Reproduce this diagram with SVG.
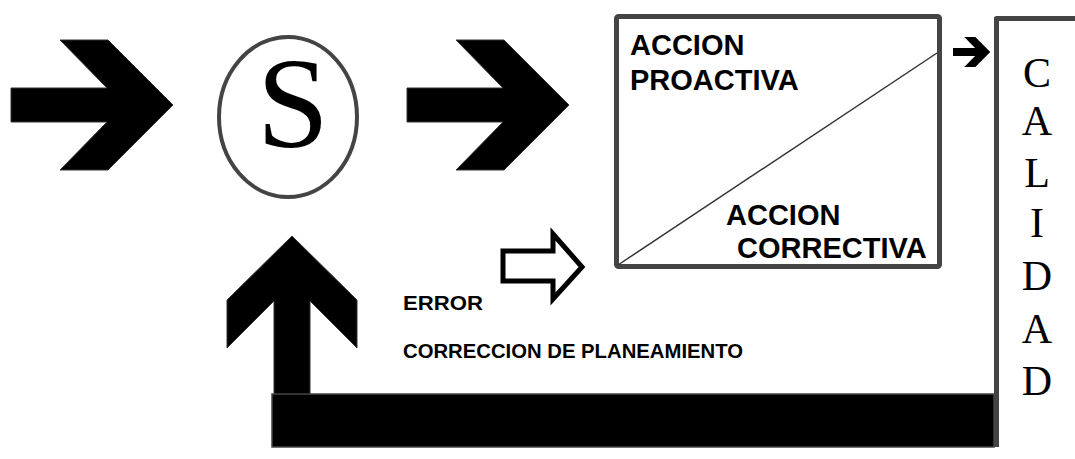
<svg xmlns="http://www.w3.org/2000/svg" width="1075" height="459" viewBox="0 0 1075 459">
<style>
.frame{fill:none;stroke:#444;stroke-width:5;stroke-linejoin:round}
.big{fill:#000;stroke:#333;stroke-width:1}
.bold{font-family:"Liberation Sans",Arial,sans-serif;font-weight:bold;fill:#000}
.serif{font-family:"Liberation Serif","Times New Roman",serif;fill:#000}
.cal{font-family:"Liberation Serif","Times New Roman",serif;font-size:42px;text-anchor:middle;fill:#000}
</style>
<defs>
<path id="chev" d="M0,-17 L96,-17 L49,-65 L97,-65 L162,0 L97,65 L49,65 L96,17 L0,17 Z"/>
</defs>
<g id="connectors">
<use href="#chev" class="big" transform="translate(11,105)"/>
<use href="#chev" class="big" transform="translate(407,105)"/>
<use href="#chev" fill="#000" transform="translate(953,52) scale(0.23)"/>
<path d="M503,251 L553,251 L553,234 L582,267 L553,299 L553,281 L503,281 Z" fill="#fff" stroke="#000" stroke-width="5" stroke-linejoin="miter"/>
<path class="big" d="M292,236 L357,300 L357,348 L310,301 L310,395 L274,395 L274,301 L227,348 L227,300 Z"/>
<rect x="272" y="394" width="722" height="53" fill="#000" stroke="#444" stroke-width="1.5"/>
</g>
<g id="node-s">
<ellipse cx="288" cy="117" rx="69" ry="80" fill="#fff" stroke="#444" stroke-width="4"/>
<text class="serif" x="293" y="147" font-size="130" text-anchor="middle">S</text>
</g>
<g id="node-accion">
<rect x="616.5" y="16.5" width="323" height="250" rx="2" fill="#fff" class="frame"/>
<line x1="618" y1="265" x2="937" y2="53" stroke="#333" stroke-width="1.5"/>
<text class="bold" font-size="29" x="630" y="55">ACCION</text>
<text class="bold" font-size="29" x="630" y="90">PROACTIVA</text>
<text class="bold" font-size="29" x="726" y="225">ACCION</text>
<text class="bold" font-size="29" x="737" y="258">CORRECTIVA</text>
</g>
<g id="node-calidad">
<path class="frame" d="M1080,18.5 L996.5,18.5 L996.5,447" stroke-linejoin="miter"/>
<text class="cal" x="1037" y="87">C</text>
<text class="cal" x="1037" y="135">A</text>
<text class="cal" x="1037" y="187">L</text>
<text class="cal" x="1037" y="237">I</text>
<text class="cal" x="1037" y="290">D</text>
<text class="cal" x="1037" y="343">A</text>
<text class="cal" x="1037" y="395">D</text>
</g>
<g id="labels">
<text class="bold" font-size="21" x="403" y="310" textLength="80" lengthAdjust="spacingAndGlyphs">ERROR</text>
<text class="bold" font-size="21" x="403" y="358" textLength="340" lengthAdjust="spacingAndGlyphs">CORRECCION DE PLANEAMIENTO</text>
</g>
</svg>
